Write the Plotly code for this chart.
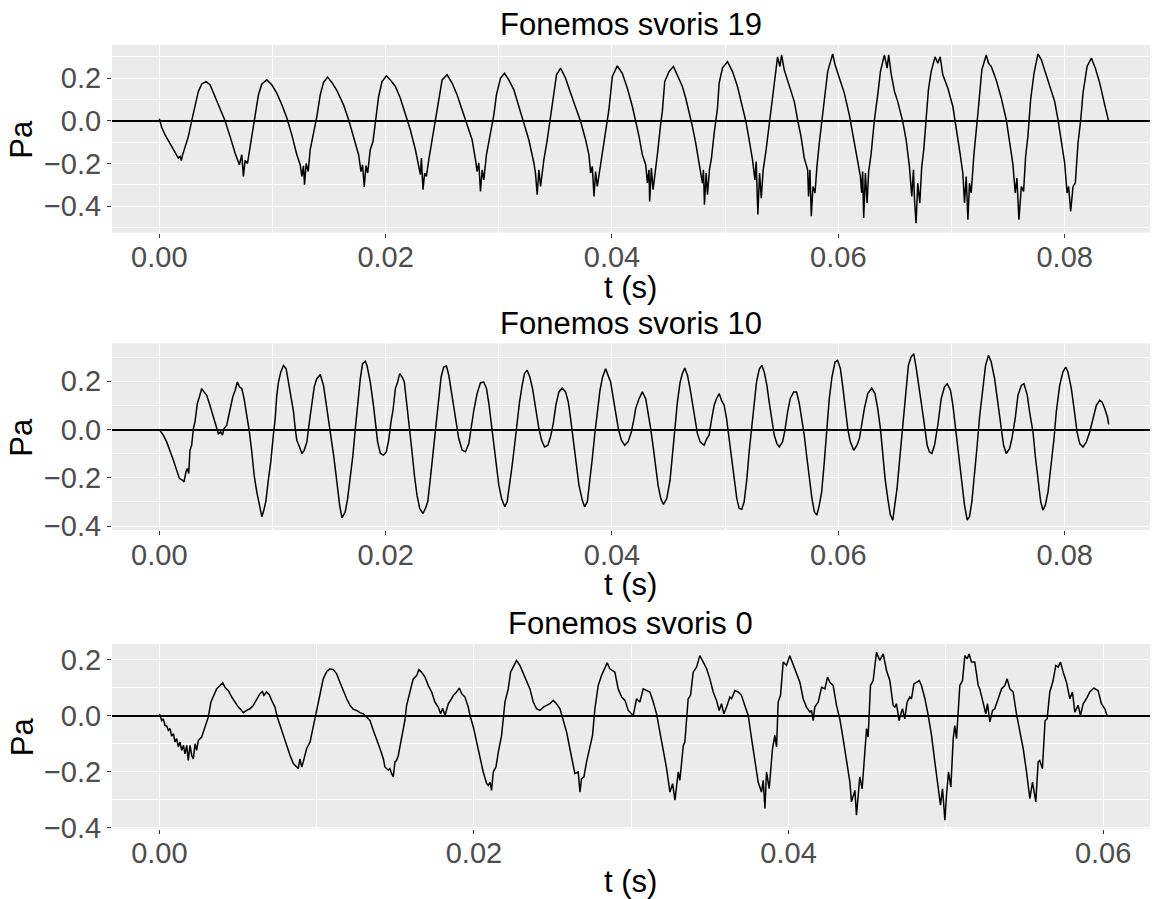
import plotly.graph_objects as go

# ---- data: (t in ms, pressure in Pa) ----
svoris19 = [
(0.00,0.010),(0.21,-0.030),(0.50,-0.065),(0.94,-0.105),(1.30,-0.144),(1.53,-0.164),(1.68,-0.175),(1.83,-0.167),(1.95,-0.186),(2.06,-0.160),(2.27,-0.128),(2.57,-0.073),(2.86,0.000),(3.16,0.075),(3.45,0.138),(3.75,0.173),(4.13,0.184),(4.48,0.169),(4.93,0.114),(5.37,0.059),(5.81,0.000),(6.25,-0.073),(6.70,-0.152),(7.08,-0.206),(7.29,-0.159),(7.43,-0.261),(7.58,-0.186),(7.79,-0.200),(8.02,-0.120),(8.32,-0.030),(8.53,0.044),(8.76,0.122),(9.06,0.173),(9.50,0.192),(9.94,0.169),(10.38,0.130),(10.83,0.075),(11.27,0.013),(11.71,-0.066),(12.15,-0.159),(12.45,-0.206),(12.60,-0.261),(12.74,-0.211),(12.83,-0.300),(12.98,-0.200),(13.16,-0.238),(13.33,-0.136),(13.63,-0.061),(13.92,0.020),(14.22,0.122),(14.51,0.180),(14.87,0.205),(15.25,0.180),(15.69,0.142),(16.28,0.075),(16.73,0.005),(17.17,-0.073),(17.61,-0.159),(17.82,-0.238),(17.96,-0.206),(18.11,-0.310),(18.26,-0.211),(18.41,-0.245),(18.64,-0.136),(18.88,-0.097),(19.09,-0.011),
(19.38,0.114),(19.68,0.184),(20.06,0.211),(20.41,0.192),(20.86,0.161),(21.30,0.106),(21.74,0.036),(22.18,-0.042),(22.63,-0.136),(22.92,-0.214),(23.07,-0.253),(23.16,-0.175),(23.30,-0.323),(23.45,-0.245),(23.60,-0.261),(23.81,-0.183),(24.10,-0.089),(24.40,0.005),(24.69,0.114),(24.99,0.192),(25.43,0.216),(25.87,0.177),(26.31,0.122),(26.76,0.052),(27.20,-0.019),(27.64,-0.089),(27.94,-0.183),(28.08,-0.238),(28.23,-0.198),(28.38,-0.331),(28.53,-0.230),(28.67,-0.277),(28.91,-0.159),(29.26,-0.058),(29.56,0.028),(29.79,0.122),(30.15,0.200),(30.50,0.223),(30.88,0.192),(31.33,0.145),(31.77,0.067),(32.21,-0.019),(32.65,-0.089),(33.10,-0.198),(33.24,-0.245),(33.39,-0.347),(33.54,-0.230),(33.69,-0.308),(33.83,-0.238),(33.98,-0.183),(34.28,-0.089),(34.57,0.013),(34.87,0.130),(35.10,0.216),(35.46,0.247),(35.90,0.200),(36.34,0.130),(36.78,0.067),(37.23,-0.003),(37.67,-0.089),(37.96,-0.159),(38.11,-0.245),(38.26,-0.214),(38.41,-0.355),(38.55,-0.238),(38.70,-0.308),(38.91,-0.230),(39.14,-0.159),(39.44,-0.050),(39.73,0.052),(40.03,0.208),(40.47,0.258),(40.91,0.223),(41.36,0.153),(41.80,0.067),(42.09,0.005),
(42.39,-0.073),(42.68,-0.159),(42.98,-0.206),(43.13,-0.292),(43.27,-0.230),(43.33,-0.378),(43.48,-0.222),(43.63,-0.323),(43.78,-0.245),(44.01,-0.159),(44.31,-0.011),(44.45,0.044),(44.66,0.184),(45.04,0.231),(45.43,0.255),(45.78,0.216),(46.22,0.161),(46.52,0.106),(46.81,0.044),(47.11,-0.027),(47.40,-0.105),(47.70,-0.191),(47.85,-0.245),(47.99,-0.292),(48.08,-0.230),(48.17,-0.394),(48.32,-0.245),(48.44,-0.347),(48.61,-0.230),(48.79,-0.175),(49.03,-0.058),(49.32,0.059),(49.47,0.177),(49.76,0.247),(50.21,0.278),(50.65,0.231),(51.09,0.161),(51.53,0.067),(51.83,-0.003),(52.12,-0.089),(52.42,-0.183),(52.63,-0.277),(52.74,-0.191),(52.89,-0.440),(53.04,-0.245),(53.19,-0.363),(53.36,-0.230),(53.60,-0.144),(53.89,-0.011),(54.19,0.114),(54.40,0.208),(54.63,0.300),(54.84,0.255),(54.99,0.309),(55.22,0.239),(55.66,0.169),(56.11,0.090),(56.40,0.005),(56.70,-0.073),(56.99,-0.175),(57.29,-0.230),(57.37,-0.355),(57.49,-0.230),(57.61,-0.448),(57.76,-0.308),(57.94,-0.339),(58.11,-0.214),(58.35,-0.089),(58.61,0.020),(58.82,0.114),(59.06,0.231),(59.35,0.286),(59.50,0.314),(59.71,0.263),(60.09,0.200),(60.53,0.130),(60.97,0.028),(61.27,-0.066),(61.56,-0.159),(61.95,-0.261),(62.06,-0.339),(62.15,-0.238),(62.24,-0.456),(62.39,-0.245),(62.54,-0.386),(62.68,-0.238),(62.89,-0.159),(63.19,0.005),(63.48,0.122),(63.72,0.231),(64.07,0.309),(64.31,0.247),(64.45,0.309),(64.66,0.223),(64.96,0.138),
(65.25,0.090),(65.69,-0.003),(65.99,-0.089),(66.28,-0.214),(66.49,-0.355),(66.64,-0.230),(66.73,-0.370),(66.87,-0.480),(67.02,-0.292),(67.20,-0.386),(67.37,-0.214),(67.55,-0.136),(67.76,0.020),(67.96,0.145),(68.20,0.231),(68.55,0.300),(68.79,0.270),(69.00,0.300),(69.23,0.216),(69.68,0.153),(70.12,0.067),(70.41,-0.027),(70.71,-0.136),(71.00,-0.245),(71.15,-0.386),(71.30,-0.261),(71.45,-0.464),(71.59,-0.292),(71.74,-0.339),(71.98,-0.159),(72.18,-0.058),(72.39,0.067),(72.68,0.239),(73.07,0.309),(73.27,0.270),(73.51,0.255),(73.95,0.192),(74.40,0.106),(74.84,0.005),(75.13,-0.089),(75.43,-0.206),(75.63,-0.339),(75.78,-0.269),(75.96,-0.464),(76.17,-0.308),(76.37,-0.331),(76.55,-0.167),(76.75,-0.073),(76.99,0.098),(77.29,0.223),(77.64,0.314),(77.94,0.286),(78.23,0.239),(78.67,0.161),(79.12,0.090),(79.41,0.005),(79.71,-0.089),(80.00,-0.198),(80.21,-0.339),(80.35,-0.308),(80.53,-0.425),(80.74,-0.308),(80.94,-0.292),(81.18,-0.105),(81.42,0.005),(81.62,0.130),(81.98,0.255),(82.36,0.294),(82.71,0.247),(83.10,0.177),(83.54,0.075),(83.89,-0.003),
]

svoris10 = [
(0.00,0.000),(0.35,-0.023),(0.65,-0.051),(0.94,-0.086),(1.24,-0.126),(1.53,-0.168),(1.77,-0.202),(2.06,-0.210),(2.18,-0.217),(2.36,-0.175),(2.48,-0.161),(2.60,-0.182),(2.71,-0.086),(2.86,-0.065),(3.01,0.004),(3.16,0.034),(3.36,0.108),(3.54,0.135),(3.75,0.170),(3.95,0.156),(4.19,0.142),(4.48,0.100),(4.78,0.052),(5.07,-0.003),(5.22,-0.017),(5.43,-0.010),(5.58,-0.023),(5.72,0.004),(5.96,0.018),(6.11,0.052),(6.25,0.080),(6.49,0.135),(6.70,0.163),(6.90,0.197),(7.08,0.177),(7.29,0.170),(7.49,0.128),(7.73,0.066),(7.96,-0.010),(8.17,-0.092),(8.38,-0.189),(8.61,-0.258),(8.82,-0.313),(9.06,-0.361),(9.20,-0.341),(9.41,-0.299),(9.65,-0.203),(9.85,-0.134),(10.09,-0.017),(10.24,0.046),(10.38,0.142),(10.53,0.197),(10.74,0.239),(10.97,0.266),(11.21,0.252),(11.42,0.197),(11.62,0.135),(11.86,0.073),(12.01,0.004),(12.15,-0.044),(12.39,-0.072),(12.60,-0.099),(12.80,-0.086),(13.04,-0.051),(13.24,0.025),(13.48,0.114),(13.69,0.177),(13.92,0.211),(14.22,0.228),(14.51,0.183),(14.81,0.087),(15.10,-0.010),(15.40,-0.106),(15.69,-0.217),(15.93,-0.313),(16.14,-0.366),(16.43,-0.341),(16.64,-0.286),(16.87,-0.203),(17.11,-0.106),(17.32,0.004),(17.52,0.114),(17.76,0.211),(17.96,0.273),(18.20,0.283),(18.35,0.266),(18.64,0.197),(18.94,0.094),(19.09,0.018),
(19.29,-0.051),(19.53,-0.099),(19.82,-0.106),(20.06,-0.092),(20.27,-0.044),(20.47,0.032),(20.65,0.080),(20.86,0.170),(21.06,0.197),(21.24,0.232),(21.45,0.218),(21.65,0.197),(21.89,0.101),(22.12,0.004),(22.33,-0.092),(22.54,-0.189),(22.77,-0.272),(23.01,-0.327),(23.30,-0.348),(23.51,-0.327),(23.72,-0.299),(23.95,-0.203),(24.19,-0.092),(24.40,-0.003),(24.54,0.073),(24.69,0.142),(24.90,0.218),(25.13,0.259),(25.37,0.263),(25.58,0.225),(25.81,0.156),(26.02,0.087),(26.25,0.018),(26.46,-0.037),(26.76,-0.086),(27.05,-0.092),(27.35,-0.058),(27.55,0.011),(27.79,0.080),(28.08,0.149),(28.38,0.194),(28.67,0.197),(28.91,0.170),(29.12,0.108),(29.32,0.032),(29.56,-0.065),(29.79,-0.161),(30.00,-0.230),(30.24,-0.286),(30.53,-0.320),(30.74,-0.299),(30.97,-0.230),(31.18,-0.148),(31.39,-0.065),(31.62,0.032),(31.83,0.114),(32.06,0.183),(32.27,0.232),(32.51,0.246),(32.74,0.218),(32.98,0.170),(33.24,0.087),(33.54,0.004),(33.78,-0.044),(34.04,-0.072),(34.34,-0.065),(34.57,-0.030),(34.81,0.025),(35.04,0.101),(35.31,0.156),(35.60,0.172),(35.90,0.156),(36.14,0.114),(36.34,0.046),(36.58,-0.051),(36.84,-0.148),(37.08,-0.230),(37.37,-0.292),(37.58,-0.320),(37.82,-0.299),(38.05,-0.217),(38.26,-0.120),(38.47,-0.023),(38.70,0.073),(38.94,0.163),(39.17,0.218),(39.44,0.252),(39.65,0.225),(39.88,0.197),(40.12,0.128),(40.35,0.059),(40.56,0.004),(40.83,-0.044),(41.12,-0.065),(41.42,-0.051),(41.71,-0.010),(41.95,0.046),(42.09,0.087),
(42.39,0.128),(42.68,0.156),(42.98,0.128),(43.19,0.073),(43.42,0.004),(43.66,-0.079),(43.86,-0.161),(44.07,-0.230),(44.31,-0.286),(44.54,-0.310),(44.84,-0.286),(45.13,-0.210),(45.34,-0.106),(45.55,0.004),(45.78,0.114),(46.02,0.197),(46.22,0.232),(46.43,0.255),(46.67,0.225),(46.90,0.170),(47.11,0.114),(47.32,0.046),(47.55,-0.017),(47.79,-0.051),(47.99,-0.058),(48.14,-0.065),(48.38,-0.037),(48.58,-0.023),(48.79,0.039),(49.03,0.101),(49.23,0.128),(49.47,0.149),(49.68,0.121),(49.91,0.101),(50.12,0.046),(50.35,-0.037),(50.56,-0.134),(50.80,-0.217),(51.03,-0.286),(51.24,-0.327),(51.47,-0.330),(51.68,-0.299),(51.92,-0.203),(52.12,-0.092),(52.33,0.004),(52.57,0.114),(52.77,0.197),(53.01,0.250),(53.24,0.266),(53.45,0.239),(53.69,0.183),(53.89,0.114),(54.13,0.032),(54.34,-0.023),(54.57,-0.058),(54.78,-0.072),(55.07,-0.051),(55.28,-0.003),(55.52,0.073),(55.75,0.128),(56.05,0.156),(56.31,0.156),(56.55,0.108),(56.76,0.046),(56.99,-0.023),(57.23,-0.120),(57.43,-0.203),(57.67,-0.286),(57.88,-0.341),(58.11,-0.354),(58.32,-0.313),(58.53,-0.258),(58.76,-0.134),(59.00,0.004),(59.20,0.128),(59.44,0.218),(59.71,0.280),(59.94,0.287),(60.18,0.252),(60.38,0.183),(60.62,0.087),(60.83,0.004),(61.06,-0.051),(61.36,-0.086),(61.65,-0.065),(61.86,-0.037),(62.06,0.018),(62.30,0.087),(62.60,0.149),(62.95,0.172),(63.24,0.149),(63.48,0.087),(63.72,0.004),(63.92,-0.092),(64.13,-0.203),(64.37,-0.286),(64.60,-0.354),(64.81,-0.375),(64.96,-0.327),
(65.19,-0.244),(65.40,-0.134),(65.69,0.004),(65.99,0.170),(66.19,0.266),(66.43,0.301),(66.67,0.314),(66.87,0.259),(67.08,0.197),(67.32,0.114),(67.61,0.018),(67.85,-0.065),(68.05,-0.092),(68.26,-0.099),(68.50,-0.065),(68.79,0.018),(69.09,0.128),(69.38,0.177),(69.62,0.190),(69.91,0.163),(70.12,0.101),(70.41,-0.010),(70.71,-0.134),(70.94,-0.230),(71.15,-0.313),(71.39,-0.375),(71.59,-0.361),(71.80,-0.299),(72.04,-0.189),(72.27,-0.065),(72.48,0.052),(72.77,0.170),(73.01,0.266),(73.27,0.308),(73.51,0.280),(73.81,0.211),(74.04,0.128),(74.34,0.018),(74.60,-0.065),(74.84,-0.099),(75.13,-0.079),(75.34,-0.037),(75.63,0.046),(75.87,0.142),(76.17,0.183),(76.40,0.190),(76.70,0.142),(76.90,0.073),(77.20,-0.010),(77.43,-0.120),(77.64,-0.217),(77.88,-0.299),(78.08,-0.334),(78.29,-0.313),(78.53,-0.258),(78.82,-0.148),(79.06,-0.037),(79.26,0.073),(79.56,0.183),(79.85,0.239),(80.09,0.259),(80.29,0.239),(80.59,0.170),(80.83,0.087),(81.09,-0.010),(81.33,-0.058),(81.62,-0.072),(81.92,-0.051),(82.21,-0.010),(82.51,0.046),(82.80,0.101),(83.10,0.121),(83.30,0.114),(83.54,0.087),(83.78,0.052),(83.89,0.021),
]

svoris0 = [
(0.00,0.007),(0.15,-0.017),(0.25,-0.011),(0.36,-0.035),(0.47,-0.037),(0.57,-0.052),(0.68,-0.046),(0.78,-0.073),(0.89,-0.064),(1.00,-0.094),(1.10,-0.082),(1.21,-0.112),(1.31,-0.094),(1.42,-0.124),(1.53,-0.106),(1.63,-0.136),(1.74,-0.106),(1.84,-0.160),(1.95,-0.106),(2.06,-0.142),(2.16,-0.154),(2.27,-0.100),(2.37,-0.124),(2.48,-0.088),(2.69,-0.076),(2.90,-0.040),(3.11,-0.005),(3.28,0.049),(3.47,0.073),(3.64,0.096),(3.86,0.108),(4.03,0.118),(4.17,0.102),(4.39,0.090),(4.60,0.067),(4.81,0.049),(5.02,0.031),(5.23,0.019),(5.34,0.011),(5.55,0.019),(5.76,0.025),(5.97,0.037),(6.08,0.049),(6.29,0.067),(6.40,0.079),(6.55,0.087),(6.65,0.073),(6.82,0.085),(6.99,0.075),(7.14,0.055),(7.35,0.031),(7.50,-0.005),(7.67,-0.035),(7.88,-0.070),(8.09,-0.106),(8.31,-0.142),(8.52,-0.171),(8.62,-0.177),(8.83,-0.189),(8.94,-0.154),(9.05,-0.183),(9.15,-0.165),(9.36,-0.118),(9.58,-0.094),(9.79,-0.035),(10.00,0.013),(10.21,0.073),(10.42,0.132),(10.64,0.158),(10.85,0.168),(11.06,0.165),(11.27,0.150),(11.48,0.120),(11.69,0.090),(11.91,0.061),(12.12,0.037),(12.33,0.023),(12.54,0.019),(12.75,0.011),(12.97,0.007),(13.18,-0.005),(13.39,-0.017),(13.60,-0.052),
(13.81,-0.082),(14.03,-0.118),(14.24,-0.154),(14.34,-0.183),(14.56,-0.195),(14.66,-0.189),(14.77,-0.207),(14.87,-0.219),(14.98,-0.165),(15.08,-0.160),(15.19,-0.142),(15.40,-0.082),(15.61,-0.017),(15.72,0.037),(15.93,0.090),(16.14,0.132),(16.36,0.144),(16.50,0.165),(16.67,0.156),(16.89,0.138),(17.10,0.108),(17.31,0.085),(17.52,0.049),(17.73,0.031),(17.88,0.007),(18.01,0.027),(18.16,0.001),(18.26,0.025),(18.37,0.043),(18.58,0.061),(18.69,0.073),(18.90,0.085),(19.07,0.099),(19.22,0.079),(19.43,0.067),(19.64,0.031),(19.75,0.001),(19.96,-0.040),(20.17,-0.094),(20.38,-0.148),(20.59,-0.201),(20.81,-0.243),(20.91,-0.249),(21.02,-0.237),(21.12,-0.267),(21.23,-0.201),(21.40,-0.183),(21.55,-0.130),(21.76,-0.070),(21.97,0.049),(22.18,0.096),(22.33,0.156),(22.50,0.174),(22.71,0.198),(22.92,0.180),(23.14,0.150),(23.35,0.120),(23.56,0.096),(23.77,0.049),(23.98,0.025),(24.19,0.019),(24.41,0.031),(24.62,0.037),(24.83,0.043),(25.04,0.055),(25.25,0.043),(25.47,0.025),(25.64,-0.011),(25.89,-0.058),(26.10,-0.118),(26.31,-0.177),(26.42,-0.207),(26.63,-0.201),(26.74,-0.273),(26.84,-0.225),(26.99,-0.219),(27.16,-0.165),(27.37,-0.118),(27.54,-0.070),(27.69,0.025),(27.90,0.108),(28.11,0.144),(28.33,0.168),(28.47,0.189),(28.64,0.168),(28.96,0.156),(29.17,0.096),(29.39,0.067),(29.60,0.055),(29.81,0.019),(30.02,0.007),
(30.13,0.001),(30.34,0.061),(30.55,0.049),(30.76,0.096),(30.97,0.090),(31.19,0.085),(31.40,0.049),(31.61,0.007),(31.82,-0.058),(32.03,-0.118),(32.25,-0.189),(32.46,-0.273),(32.63,-0.243),(32.78,-0.302),(32.99,-0.201),(33.09,-0.231),(33.31,-0.106),(33.41,-0.094),(33.62,0.061),(33.77,0.073),(33.94,0.156),(34.15,0.174),(34.36,0.215),(34.58,0.192),(34.79,0.168),(35.00,0.132),(35.21,0.085),(35.42,0.055),(35.59,0.019),(35.74,0.043),(35.89,0.007),(36.06,0.031),(36.27,0.067),(36.38,0.061),(36.59,0.090),(36.80,0.085),(37.01,0.073),(37.22,0.037),(37.44,0.001),(37.65,-0.082),(37.86,-0.165),(38.07,-0.237),(38.28,-0.273),(38.39,-0.231),(38.50,-0.332),(38.60,-0.201),(38.77,-0.261),(38.98,-0.118),(39.13,-0.070),(39.24,-0.112),(39.34,0.049),(39.49,0.073),(39.66,0.192),(39.87,0.180),(40.08,0.215),(40.30,0.180),(40.51,0.150),(40.72,0.120),(40.93,0.061),(41.14,0.031),(41.36,0.013),(41.46,0.019),(41.57,-0.017),(41.67,0.031),(41.89,0.049),(42.10,0.102),(42.31,0.096),(42.48,0.138),(42.63,0.120),(42.84,0.108),(43.05,0.037),(43.26,-0.011),(43.47,-0.082),(43.69,-0.165),(43.90,-0.237),(44.00,-0.308),(44.11,-0.285),(44.22,-0.267),(44.32,-0.356),(44.43,-0.285),(44.53,-0.219),(44.68,-0.261),(44.81,-0.171),(44.96,-0.046),(45.06,-0.076),(45.21,0.108),(45.38,0.126),(45.59,0.227),(45.80,0.198),(46.02,0.221),(46.23,0.162),(46.44,0.126),(46.65,0.037),
(46.76,0.031),(46.86,0.043),(47.03,-0.017),(47.14,0.007),(47.25,0.025),(47.39,-0.011),(47.54,0.049),(47.71,0.067),(47.82,0.061),(47.97,0.114),(48.14,0.120),(48.31,0.126),(48.45,0.108),(48.67,0.061),(48.88,0.001),(49.09,-0.070),(49.30,-0.165),(49.51,-0.249),(49.66,-0.320),(49.79,-0.261),(49.94,-0.374),(50.04,-0.285),(50.17,-0.201),(50.32,-0.255),(50.47,-0.082),(50.57,-0.035),(50.68,-0.082),(50.89,0.108),(51.06,0.126),(51.21,0.215),(51.36,0.204),(51.48,0.221),(51.63,0.192),(51.84,0.192),(52.06,0.108),(52.16,0.096),(52.37,0.043),(52.54,0.007),(52.65,0.043),(52.80,-0.023),(52.97,0.019),(53.11,0.025),(53.33,0.061),(53.54,0.096),(53.75,0.108),(53.90,0.132),(54.07,0.096),(54.28,0.085),(54.49,0.007),(54.70,-0.058),(54.92,-0.118),(55.13,-0.201),(55.34,-0.296),(55.51,-0.237),(55.72,-0.308),(55.87,-0.165),(55.97,-0.160),(56.14,-0.189),(56.31,-0.017),(56.44,-0.011),(56.61,0.085),(56.82,0.126),(56.99,0.180),(57.14,0.174),(57.29,0.192),(57.46,0.156),(57.67,0.120),(57.88,0.061),(58.05,0.085),(58.20,0.013),(58.41,0.037),(58.56,0.001),(58.73,0.043),(58.94,0.061),(59.15,0.085),(59.41,0.099),(59.68,0.090),(59.89,0.043),(60.11,0.025),(60.25,0.001),
]

panel_titles = ["Fonemos svoris 19", "Fonemos svoris 10", "Fonemos svoris 0"]
x_label = "t (s)"
y_label = "Pa"
y_tick_values = [-0.4, -0.2, 0.0, 0.2]
y_tick_text = ["\u22120.4", "\u22120.2", "0.0", "0.2"]

# ---- layout geometry (target pixels in the photographed page) ----
W, H = 1157, 899
PLOT_H = 885.5          # effective vertical pixel extent observed in the render
X_LEFT, X_RIGHT = 112, 1150
panels = [
    dict(data=svoris19, top=45, bottom=233, xr=[-0.00418, 0.08754], yr=[-0.5246, 0.356], xt=55),
    dict(data=svoris10, top=344, bottom=531, xr=[-0.00418, 0.08754], yr=[-0.4166, 0.357], xt=54),
    dict(data=svoris0, top=645, bottom=830, xr=[-0.00301, 0.06298], yr=[-0.4036, 0.257], xt=53),
]


def py(p):
    return 1 - p / PLOT_H


FONT = "Liberation Sans, Arial, sans-serif"
TICK_SIZE = 29
TITLE_SIZE = 31
fig = go.Figure()
annotations = []

for i, p in enumerate(panels):
    n = "" if i == 0 else str(i + 1)
    t_s = [pt[0] / 1000.0 for pt in p["data"]]
    pa = [pt[1] for pt in p["data"]]
    fig.add_trace(go.Scatter(x=t_s, y=pa, mode="lines",
                             line=dict(color="black", width=1.5),
                             xaxis="x" + n, yaxis="y" + n, showlegend=False,
                             hoverinfo="skip"))
    ydom = [py(p["bottom"]), py(p["top"])]
    axis_common = dict(showline=False, ticks="outside", ticklen=4, tickwidth=1,
                       tickcolor="#333333", gridcolor="white", gridwidth=1.4,
                       tickfont=dict(family=FONT, size=TICK_SIZE, color="#4D4D4D"))
    fig.update_layout(**{
        "xaxis" + n: dict(domain=[X_LEFT / W, X_RIGHT / W], range=p["xr"],
                          anchor="y" + n, tickmode="linear", tick0=0, dtick=0.02,
                          tickformat=".2f", zeroline=False, ticklabelstandoff=-5,
                          minor=dict(dtick=0.01, tick0=0, showgrid=True,
                                     gridcolor="white", gridwidth=0.6, ticks=""),
                          **axis_common),
        "yaxis" + n: dict(domain=ydom, range=p["yr"], anchor="x" + n,
                          tickmode="array", tickvals=y_tick_values,
                          ticktext=y_tick_text,
                          zeroline=True, zerolinecolor="black", zerolinewidth=1.5,
                          minor=dict(dtick=0.1, tick0=0, showgrid=True,
                                     gridcolor="white", gridwidth=0.6, ticks=""),
                          **axis_common),
    })
    cx = (X_LEFT + X_RIGHT) / 2 / W
    annotations.append(dict(text=panel_titles[i], x=cx, y=py(p["top"] - 20),
                            xref="paper", yref="paper", showarrow=False,
                            xanchor="center", yanchor="middle",
                            font=dict(family=FONT, size=TITLE_SIZE, color="black")))
    annotations.append(dict(text=x_label, x=cx, y=py(p["bottom"] + p["xt"]),
                            xref="paper", yref="paper", showarrow=False,
                            xanchor="center", yanchor="middle",
                            font=dict(family=FONT, size=TITLE_SIZE, color="black")))
    annotations.append(dict(text=y_label, x=22 / W,
                            y=py((p["top"] + p["bottom"]) / 2),
                            xref="paper", yref="paper", showarrow=False,
                            xanchor="center", yanchor="middle", textangle=-90,
                            font=dict(family=FONT, size=TITLE_SIZE, color="black")))

fig.update_layout(width=W, height=H, margin=dict(l=0, r=0, t=0, b=0),
                  paper_bgcolor="white", plot_bgcolor="#EBEBEB",
                  annotations=annotations, showlegend=False)

fig.write_html("out.html")
